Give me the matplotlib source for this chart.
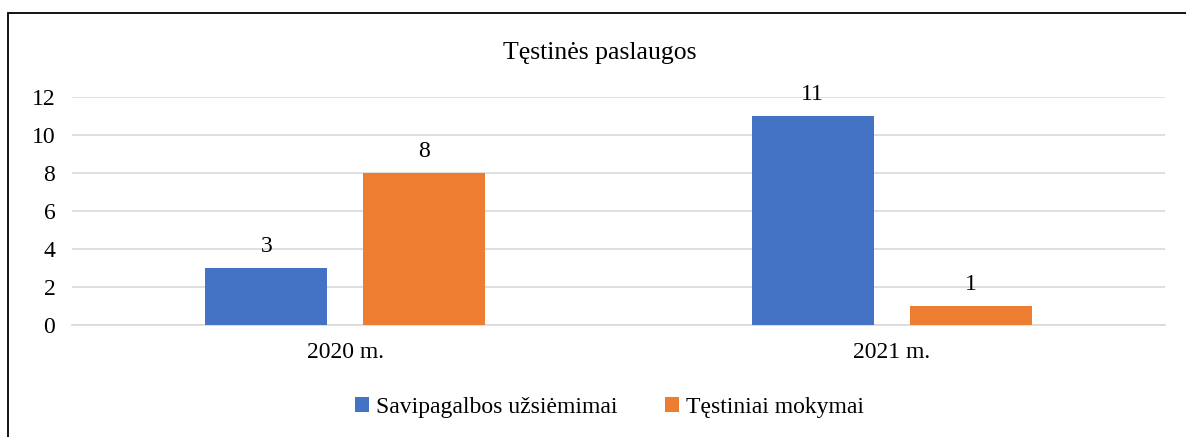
import matplotlib.pyplot as plt
import numpy as np
from matplotlib.patches import Rectangle

# Data
years = ['2020 m.', '2021 m.']
savipagalbos = [3, 11]
testiniai = [8, 1]
series_names = ['Savipagalbos užsiėmimai', 'Tęstiniai mokymai']

plt.rcParams['font.family'] = ['Liberation Serif', 'DejaVu Serif']

fig = plt.figure(figsize=(11.86, 4.37), dpi=100)
ax = fig.add_axes([0.0607, 0.2563, 0.9216, 0.5217])

x = np.arange(len(years))
w = 0.223
off = 0.1445
b1 = ax.bar(x - off, savipagalbos, w, color='#4472C4', label=series_names[0], zorder=3)
b2 = ax.bar(x + off, testiniai, w, color='#ED7D31', label=series_names[1], zorder=3)

for bars in (b1, b2):
    for r in bars:
        ax.annotate(f'{int(r.get_height())}', (r.get_x() + r.get_width() / 2, r.get_height()),
                    xytext=(0, 8), textcoords='offset points', ha='center', va='bottom', fontsize=17)

ax.set_xlim(-0.5, 1.5)
ax.set_ylim(0, 12)
ax.set_yticks(range(0, 13, 2))
ax.set_xticks(x)
ax.set_xticklabels(years)
ax.tick_params(axis='both', length=0, labelsize=17)
ax.tick_params(axis='y', pad=12)
ax.tick_params(axis='x', pad=12)
ax.grid(axis='y', color='#d9d9d9', linewidth=1.2, zorder=0)
for s in ['top', 'right', 'left']:
    ax.spines[s].set_visible(False)
ax.spines['bottom'].set_color('#d9d9d9')
ax.spines['bottom'].set_linewidth(1.2)

fig.text(0.506, 0.878, 'Tęstinės paslaugos', ha='center', va='center', fontsize=18.5)

fig.legend(loc='center', bbox_to_anchor=(0.514, 0.068), ncol=2, frameon=False,
           fontsize=17, handlelength=0.6, handleheight=0.6, handletextpad=0.3, columnspacing=2.0)

# outer frame
fig.patches.append(Rectangle((8 / 1186, -0.1), 1.2, 1 - 13 / 437 + 0.1, transform=fig.transFigure,
                             fill=False, edgecolor='black', linewidth=1.3))

fig.savefig('out.png', dpi=100)
